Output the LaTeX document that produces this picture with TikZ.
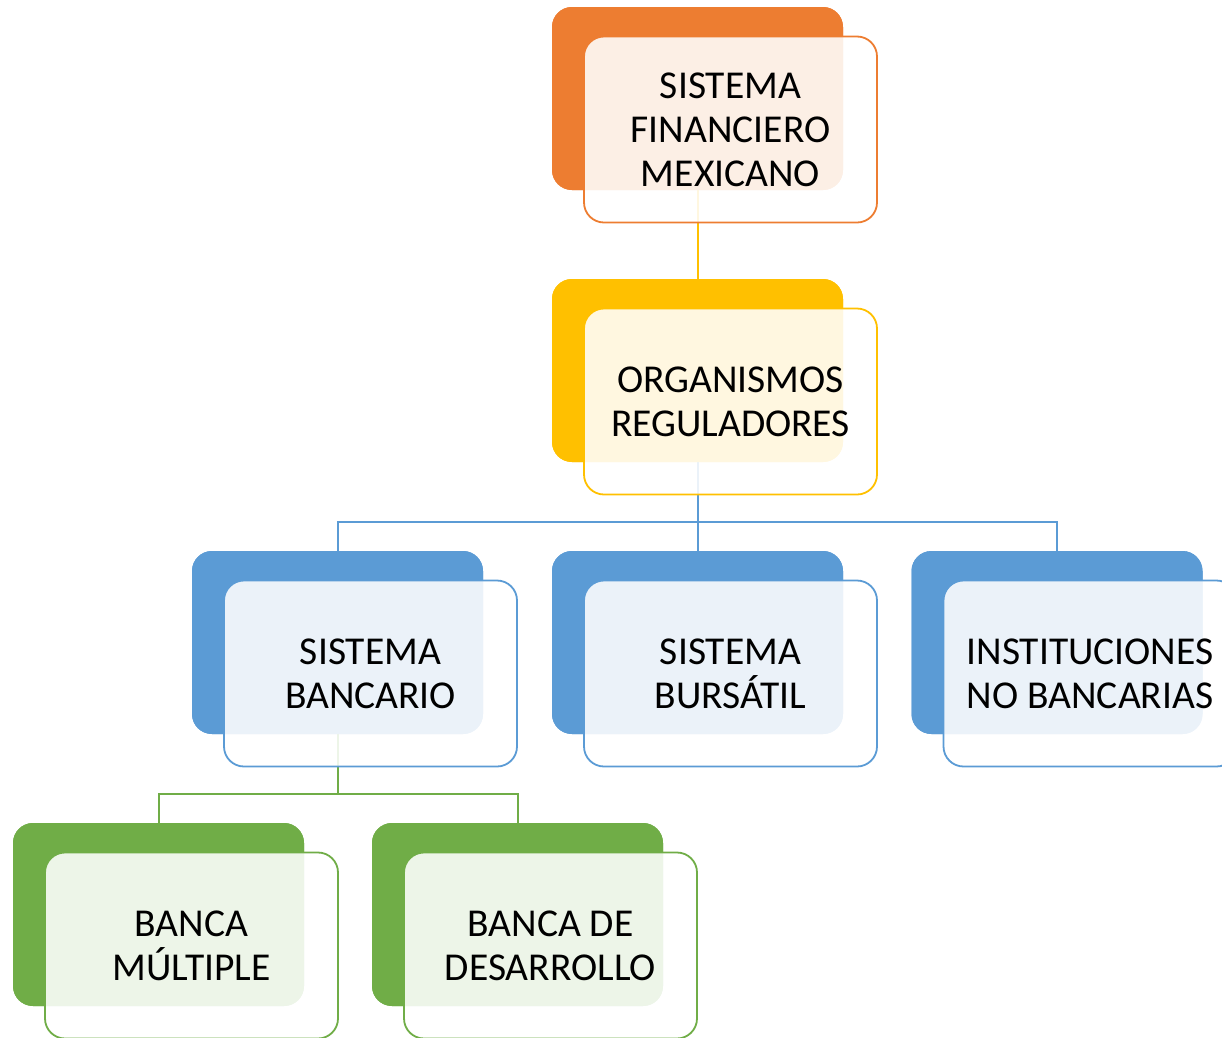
\documentclass[tikz,border=0pt]{standalone}
\usepackage{fontspec}
\setmainfont{Carlito}
\definecolor{corange}{HTML}{ED7D31}
\definecolor{cyellow}{HTML}{FFC000}
\definecolor{cblue}{HTML}{5B9BD5}
\definecolor{cgreen}{HTML}{70AD47}
\begin{document}
\begin{tikzpicture}[x=1pt,y=-1pt,
  backbox/.style={rounded corners=20pt, minimum width=291pt, minimum height=183pt, inner sep=0pt, fill=#1, draw=none},
  frontbox/.style={rounded corners=20pt, minimum width=293pt, minimum height=186pt, inner sep=0pt,
     fill=white, fill opacity=0.88, text opacity=1, draw=#1, line width=1.8pt, align=center,
     font=\fontsize{39.5}{44}\selectfont, text=black},
  conn/.style={line width=2pt, draw=#1}]
\useasboundingbox (0,0) rectangle (1222,1037);
\clip (0,0) rectangle (1222,1037);
% back boxes (positions)
\path
  (697.5,98.5)  node[backbox=corange] (sfmb) {}
  (697.5,370.5) node[backbox=cyellow] (orb) {}
  (337.5,642.5) node[backbox=cblue] (sbb) {}
  (697.5,642.5) node[backbox=cblue] (sbub) {}
  (1057,642.5)  node[backbox=cblue] (ibb) {}
  (158.5,914.5) node[backbox=cgreen] (bmb) {}
  (517.5,914.5) node[backbox=cgreen] (bdb) {};
% connectors
\coordinate (busA) at (697.5,522);
\coordinate (busB) at (337.5,794);
\draw[conn=cyellow] (sfmb.south) -- (orb.north);
\draw[conn=cblue] (orb.south) -- (busA);
\draw[conn=cblue] (sbb.north) |- (busA) -| (ibb.north);
\draw[conn=cblue] (busA) -- (sbub.north);
\draw[conn=cgreen] (sbb.south) -- (busB);
\draw[conn=cgreen] (bmb.north) |- (busB) -| (bdb.north);
% redraw back boxes above connectors
\path
  (sfmb.center) node[backbox=corange] {}
  (orb.center) node[backbox=cyellow] {}
  (sbb.center) node[backbox=cblue] {}
  (sbub.center) node[backbox=cblue] {}
  (ibb.center) node[backbox=cblue] {}
  (bmb.center) node[backbox=cgreen] {}
  (bdb.center) node[backbox=cgreen] {};
% front boxes
\node[frontbox=corange] (sfm) at ([shift={(33,31)}]sfmb.center) {SISTEMA\\FINANCIERO\\MEXICANO};
\node[frontbox=cyellow] (org) at ([shift={(33,31)}]orb.center) {ORGANISMOS\\REGULADORES};
\node[frontbox=cblue] (sb) at ([shift={(33,31)}]sbb.center) {SISTEMA\\BANCARIO};
\node[frontbox=cblue] (sbu) at ([shift={(33,31)}]sbub.center) {SISTEMA\\BURSÁTIL};
\node[frontbox=cblue] (ib) at ([shift={(33,31)}]ibb.center) {INSTITUCIONES\\NO BANCARIAS};
\node[frontbox=cgreen] (bm) at ([shift={(33,31)}]bmb.center) {BANCA\\MÚLTIPLE};
\node[frontbox=cgreen] (bd) at ([shift={(33,31)}]bdb.center) {BANCA DE\\DESARROLLO};
\end{tikzpicture}
\end{document}
